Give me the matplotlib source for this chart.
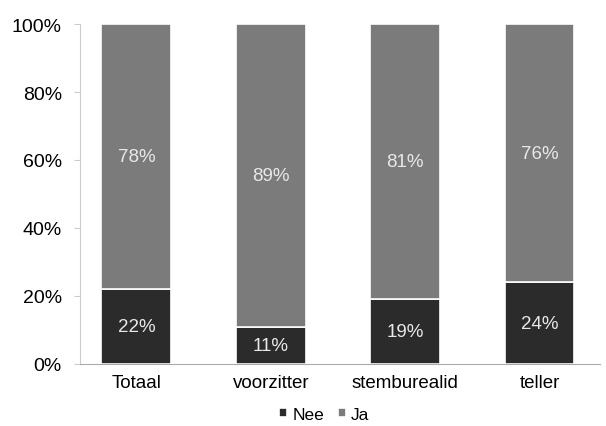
import numpy as np
import matplotlib.pyplot as plt

plt.rcParams["font.family"] = ["Liberation Sans", "DejaVu Sans"]

categories = ["Totaal", "voorzitter", "stemburealid", "teller"]
nee = [22, 11, 19, 24]
ja = [78, 89, 81, 76]

fig = plt.figure(figsize=(6.06, 4.27), dpi=100)
ax = fig.add_axes([80/606, 1 - 365/427, 520/606, 340/427])

x = np.arange(len(categories))
w = 0.52
ax.bar(x, nee, w, color="#2b2b2b", edgecolor="white", linewidth=1.2, label="Nee")
ax.bar(x, ja, w, bottom=nee, color="#7b7b7b", edgecolor="white", linewidth=1.2, label="Ja")

for i in range(len(categories)):
    ax.text(x[i], nee[i] / 2, f"{nee[i]}%", ha="center", va="center",
            color="#e8e8e8", fontsize=13.5)
    ax.text(x[i], nee[i] + ja[i] / 2, f"{ja[i]}%", ha="center", va="center",
            color="#e8e8e8", fontsize=13.5)

ax.set_xlim(-0.42, 3.45)
ax.set_ylim(0, 100)
ax.set_yticks(np.arange(0, 101, 20))
ax.set_yticklabels([f"{v}%" for v in range(0, 101, 20)], fontsize=14)
ax.set_xticks(x)
ax.set_xticklabels(categories, fontsize=13.5)
ax.tick_params(axis="x", length=0, pad=7)
ax.tick_params(axis="y", length=4, color="#cccccc", pad=9)
for s in ["top", "right"]:
    ax.spines[s].set_visible(False)
ax.spines["left"].set_color("#cccccc")
ax.spines["bottom"].set_color("#aaaaaa")

leg = ax.legend(loc="upper center", bbox_to_anchor=(0.47, -0.1), ncol=2, frameon=False,
                fontsize=12.5, handlelength=0.45, handleheight=0.45, handletextpad=0.3,
                columnspacing=0.8, borderpad=0.0)

fig.savefig("out.png", dpi=100)
